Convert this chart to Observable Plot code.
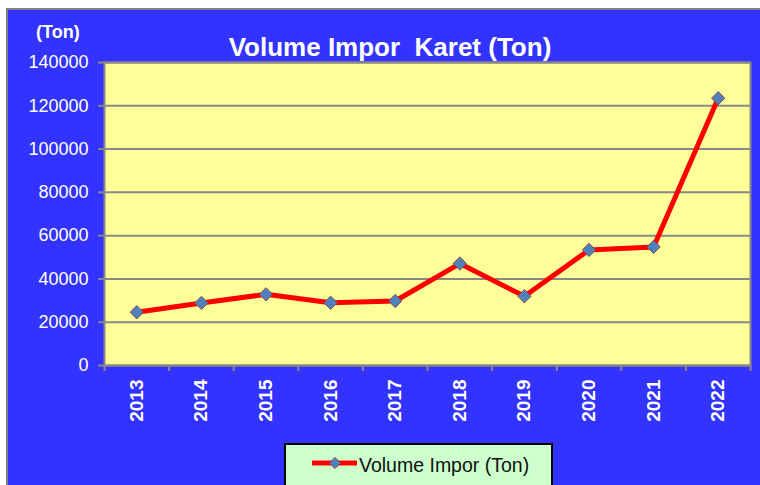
<!DOCTYPE html>
<html>
<head>
<meta charset="utf-8">
<script src="https://cdn.jsdelivr.net/npm/d3@7"></script>
<script src="https://cdn.jsdelivr.net/npm/@observablehq/plot@0.6"></script>
<style>
  html, body { margin: 0; padding: 0; background: #ffffff; }
  #wrap { position: relative; width: 760px; height: 485px; overflow: hidden; background: #ffffff; }
  #panel { position: absolute; left: 6px; top: 8px; width: 754px; height: 477px; background: #3333ff;
           border-left: 2px solid #808080; border-top: 2px solid #808080; box-sizing: border-box; }
  #chart { position: absolute; left: 0; top: 0; }
  .txt { position: absolute; font-family: "Liberation Sans", Arial, sans-serif; white-space: pre; line-height: 1; }
  #title { left: 0; width: 780px; top: 34px; text-align: center; color: #fff; font-weight: bold; font-size: 26px; }
  #unit { left: 36px; top: 23px; color: #fff; font-weight: bold; font-size: 18px; }
  #legend { position: absolute; left: 284px; top: 443px; width: 269px; height: 44px; box-sizing: border-box;
            border: 2px solid #000; background: #ccffcc; }
  #legtext { left: 73px; top: 11px; color: #111; font-size: 19.5px; }
  #legsym { position: absolute; left: 0; top: 0; }
</style>
</head>
<body>
<div id="wrap">
  <div id="panel"></div>
  <div id="chart"></div>
  <div class="txt" id="unit">(Ton)</div>
  <div class="txt" id="title">Volume Impor  Karet (Ton)</div>
  <div id="legend"><svg id="legsym" width="80" height="40"></svg><div class="txt" id="legtext">Volume Impor (Ton)</div></div>
</div>
<script>
const years = [2013, 2014, 2015, 2016, 2017, 2018, 2019, 2020, 2021, 2022];
const volume = [24600, 28900, 32900, 29000, 29800, 47100, 32000, 53400, 54800, 123500];
const yTicks = [0, 20000, 40000, 60000, 80000, 100000, 120000, 140000];
const seriesName = "Volume Impor (Ton)";

const data = years.map((y, i) => ({year: y, value: volume[i]}));
const bounds = years.map(y => y - 0.5).concat([years[years.length - 1] + 0.5]);

const lineColor = "#ff0000";
const markerFill = "#4f81bd";
const markerStroke = "#8b4a52";
const gridColor = "#888888";

const chart = Plot.plot({
  width: 760,
  height: 485,
  marginLeft: 104,
  marginRight: 10,
  marginTop: 62,
  marginBottom: 120,
  style: {background: "transparent", fontFamily: "'Liberation Sans', Arial, sans-serif", overflow: "visible"},
  x: {type: "linear", domain: [bounds[0], bounds[bounds.length - 1]], label: null},
  y: {domain: [yTicks[0], yTicks[yTicks.length - 1]], label: null},
  marks: [
    Plot.frame({fill: "#ffff99", stroke: "none"}),
    Plot.gridY(yTicks, {stroke: gridColor, strokeOpacity: 1, strokeWidth: 2}),
    Plot.frame({stroke: gridColor, strokeWidth: 2}),
    Plot.axisY(yTicks, {tickFormat: d => String(d), tickSize: 6, tickPadding: 10, stroke: gridColor, strokeWidth: 2,
      fill: "#ffffff", fontSize: 18, label: null}),
    Plot.axisX(bounds, {tickFormat: () => "", tickSize: 6, stroke: gridColor, strokeWidth: 2, label: null}),
    Plot.axisX(years, {tickFormat: d => String(d), tickSize: 0, tickPadding: 14, tickRotate: -90,
      fill: "#ffffff", fontSize: 19, fontWeight: "bold", label: null}),
    Plot.line(data, {x: "year", y: "value", stroke: lineColor, strokeWidth: 5, strokeLinejoin: "round"}),
    Plot.dot(data, {x: "year", y: "value", symbol: "diamond2", r: 6, fill: markerFill, stroke: markerStroke, strokeWidth: 1})
  ]
});
document.getElementById("chart").appendChild(chart);

// legend sample
const ls = d3.select("#legsym");
ls.append("line").attr("x1", 26).attr("x2", 71).attr("y1", 18).attr("y2", 18)
  .attr("stroke", lineColor).attr("stroke-width", 5);
ls.append("path").attr("d", d3.symbol(d3.symbolDiamond2, 80)()).attr("transform", "translate(49,18)")
  .attr("fill", markerFill).attr("stroke", markerStroke).attr("stroke-width", 1);
</script>
</body>
</html>
